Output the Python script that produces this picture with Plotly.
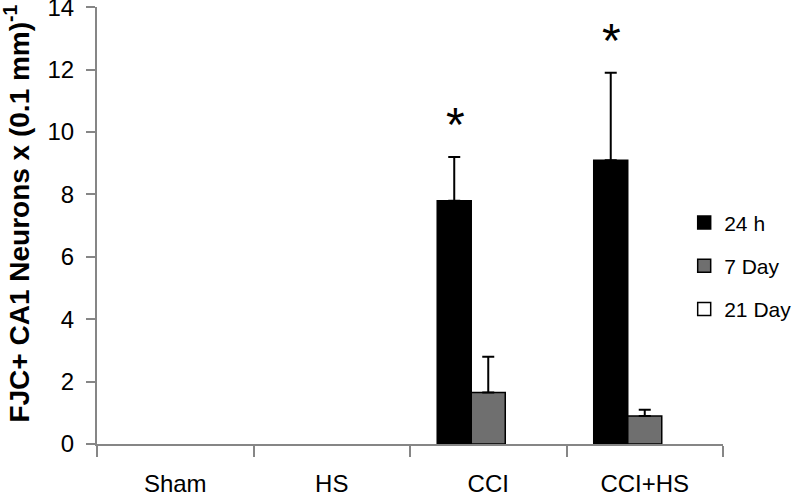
import plotly.graph_objects as go

groups = ["Sham", "HS", "CCI", "CCI+HS"]
series_names = ["24 h", "7 Day", "21 Day"]
val_24h = [0, 0, 7.8, 9.1]
err_24h = [0, 0, 1.4, 2.8]
val_7d = [0, 0, 1.65, 0.9]
err_7d = [0, 0, 1.15, 0.2]
val_21d = [0, 0, 0, 0]
err_21d = [0, 0, 0, 0]
y_ticks = [0, 2, 4, 6, 8, 10, 12, 14]
sig_groups = ["CCI", "CCI+HS"]

FONT = "Liberation Sans"
fills = ["#000000", "#6f6f6f", "#ffffff"]
vals = [val_24h, val_7d, val_21d]
errs = [err_24h, err_7d, err_21d]

fig = go.Figure()
for name, v, e, c in zip(series_names, vals, errs, fills):
    show_err = any(x > 0 for x in e)
    # zero-height bars draw nothing (no outline, no error cap)
    y_drawn = [x if x > 0 else None for x in v]
    fig.add_trace(go.Bar(
        x=groups, y=y_drawn, name=name, showlegend=False,
        marker=dict(color=c, line=dict(color="#000000", width=1.5)),
        error_y=dict(type="data", array=e, arrayminus=[0] * len(e), symmetric=False,
                     color="#000000", thickness=2, width=6, visible=show_err),
    ))
# legend entries (square swatches)
for name, c in zip(series_names, fills):
    fig.add_trace(go.Scatter(
        x=[None], y=[None], mode="markers", name=name, legendgroup=name,
        marker=dict(symbol="square", size=13, color=c,
                    line=dict(color="#000000", width=1.5)),
    ))

annotations = []
for g in sig_groups:
    i = groups.index(g)
    annotations.append(dict(
        x=g, y=val_24h[i] + err_24h[i], xref="x", yref="y",
        text="*", showarrow=False, xshift=-33, yshift=4,
        yanchor="bottom", font=dict(family=FONT, size=48, color="#000000"),
    ))
annotations.append(dict(
    text="<b>FJC+ CA1 Neurons x (0.1 mm)<sup>-1</sup></b>",
    xref="paper", yref="paper", x=-0.128, y=0.527, textangle=-90,
    showarrow=False, xanchor="center", yanchor="middle",
    font=dict(family=FONT, size=28, color="#000000"),
))

fig.update_layout(
    width=792, height=496,
    margin=dict(l=97, r=69, t=7, b=52, autoexpand=False),
    paper_bgcolor="white", plot_bgcolor="white",
    barmode="group", bargap=0.348, bargroupgap=0,
    font=dict(family=FONT, size=24, color="#000000"),
    showlegend=True,
    legend=dict(x=0.938, y=0.553, xanchor="left", yanchor="top",
                traceorder="grouped", tracegroupgap=13,
                font=dict(family=FONT, size=21, color="#000000"),
                bgcolor="rgba(0,0,0,0)"),
    annotations=annotations,
    xaxis=dict(showline=True, linecolor="#868686", linewidth=2,
               ticks="outside", tickson="boundaries", ticklen=11, tickwidth=2,
               tickcolor="#868686", showgrid=False, ticklabelstandoff=17,
               automargin=False,
               tickfont=dict(family=FONT, size=24, color="#000000")),
    yaxis=dict(range=[0, 14.01], tickvals=y_ticks, showline=True, linecolor="#868686",
               linewidth=2, ticks="outside", ticklen=9, tickwidth=2, tickcolor="#868686",
               showgrid=False, zeroline=False, ticklabelstandoff=7, automargin=False,
               ticklabeloverflow="allow",
               tickfont=dict(family=FONT, size=24, color="#000000")),
)

fig.write_html("out.html", config={"displayModeBar": False},
               post_script="document.body.style.margin='0';document.body.style.padding='0';")
